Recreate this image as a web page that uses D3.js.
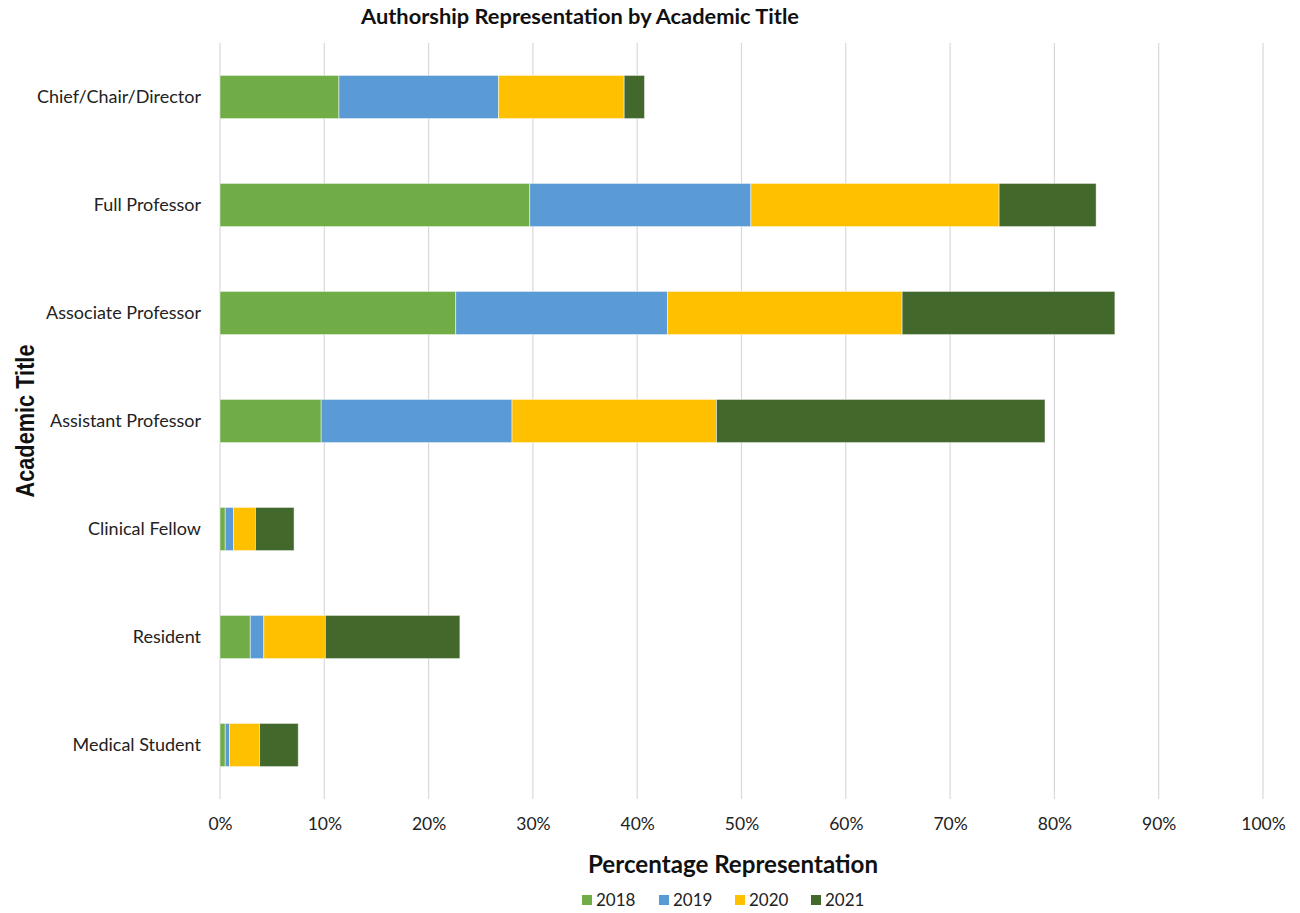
<!DOCTYPE html>
<html><head><meta charset="utf-8">
<script src="https://cdn.jsdelivr.net/npm/d3@7"></script>
<style>body{margin:0;background:#fff}</style>
</head><body>
<svg id="chart" width="1300" height="913"></svg>
<script>
const categories = ["Chief/Chair/Director","Full Professor","Associate Professor","Assistant Professor","Clinical Fellow","Resident","Medical Student"];
const years = ["2018","2019","2020","2021"];
const v2018 = [11.4, 29.7, 22.6, 9.7, 0.5, 2.9, 0.5];
const v2019 = [15.3, 21.2, 20.3, 18.3, 0.8, 1.3, 0.4];
const v2020 = [12.05, 23.8, 22.5, 19.6, 2.1, 5.9, 2.9];
const v2021 = [1.95, 9.3, 20.4, 31.5, 3.7, 12.9, 3.7];
const xTicks = [0,10,20,30,40,50,60,70,80,90,100];
const colors = ["#70AD47","#5B9BD5","#FFC000","#43682B"];

const series = [v2018, v2019, v2020, v2021];
const rows = categories.map((c,i)=>{const o={cat:c}; years.forEach((y,j)=>o[y]=series[j][i]); return o;});
const stacked = d3.stack().keys(years)(rows);

const svg = d3.select("#chart");
const font = "Lato, 'Open Sans', sans-serif";
const m = {left:220, right:1263, top:43, bottom:799};
const x = d3.scaleLinear().domain([0,100]).range([m.left, m.right]);
const y = d3.scaleBand().domain(categories).range([m.top, m.bottom]).paddingInner(0.6).paddingOuter(0.3);

// gridlines
svg.append("g").selectAll("line").data(xTicks).join("line")
  .attr("x1", d=>x(d)).attr("x2", d=>x(d))
  .attr("y1", m.top).attr("y2", m.bottom)
  .attr("stroke","#d9d9d9").attr("stroke-width",1.2);

// bars
svg.append("g").selectAll("g").data(stacked).join("g")
  .attr("fill",(d,i)=>colors[i])
  .selectAll("rect").data(d=>d).join("rect")
  .attr("x", d=>x(d[0])).attr("width", d=>x(d[1])-x(d[0]))
  .attr("y", d=>y(d.data.cat)).attr("height", y.bandwidth())
  .attr("stroke","rgba(255,255,255,0.6)").attr("stroke-width",0.8);

// x axis labels
const xAxis = d3.axisBottom(x).tickValues(xTicks).tickFormat(d=>d+"%").tickSize(0).tickPadding(19);
const gx = svg.append("g").attr("transform",`translate(0,${m.bottom})`).call(xAxis);
gx.select(".domain").remove();
gx.selectAll("text").attr("font-family",font).attr("font-size",17.5).attr("fill","#222");

// y axis labels
const yAxis = d3.axisLeft(y).tickSize(0).tickPadding(19);
const gy = svg.append("g").attr("transform",`translate(${m.left},0)`).call(yAxis);
gy.select(".domain").remove();
gy.selectAll("text").attr("font-family",font).attr("font-size",18).attr("fill","#222");

// title
svg.append("text").attr("x",580).attr("y",24).attr("text-anchor","middle")
  .attr("font-family",font).attr("font-weight","bold").attr("font-size",20)
  .attr("textLength",438).attr("lengthAdjust","spacingAndGlyphs")
  .attr("fill","#111").text("Authorship Representation by Academic Title");

// axis titles
svg.append("text").attr("x",733).attr("y",873).attr("text-anchor","middle")
  .attr("font-family",font).attr("font-weight","bold").attr("font-size",24)
  .attr("textLength",290).attr("lengthAdjust","spacingAndGlyphs")
  .attr("fill","#111").text("Percentage Representation");
svg.append("text").attr("transform","translate(34,421) rotate(-90)").attr("text-anchor","middle")
  .attr("font-family","'Liberation Sans', Arial, sans-serif").attr("font-weight","bold").attr("font-size",25)
  .attr("textLength",153).attr("lengthAdjust","spacingAndGlyphs")
  .attr("fill","#111").text("Academic Title");

// legend
const legX = [582, 659, 735, 811];
const lg = svg.append("g").selectAll("g").data(years).join("g")
  .attr("transform",(d,i)=>`translate(${legX[i]},895)`);
lg.append("rect").attr("width",10).attr("height",10).attr("fill",(d,i)=>colors[i]);
lg.append("text").attr("x",14).attr("y",11).attr("font-family",font).attr("font-size",17)
  .attr("fill","#222").text(d=>d);
</script>
</body></html>
